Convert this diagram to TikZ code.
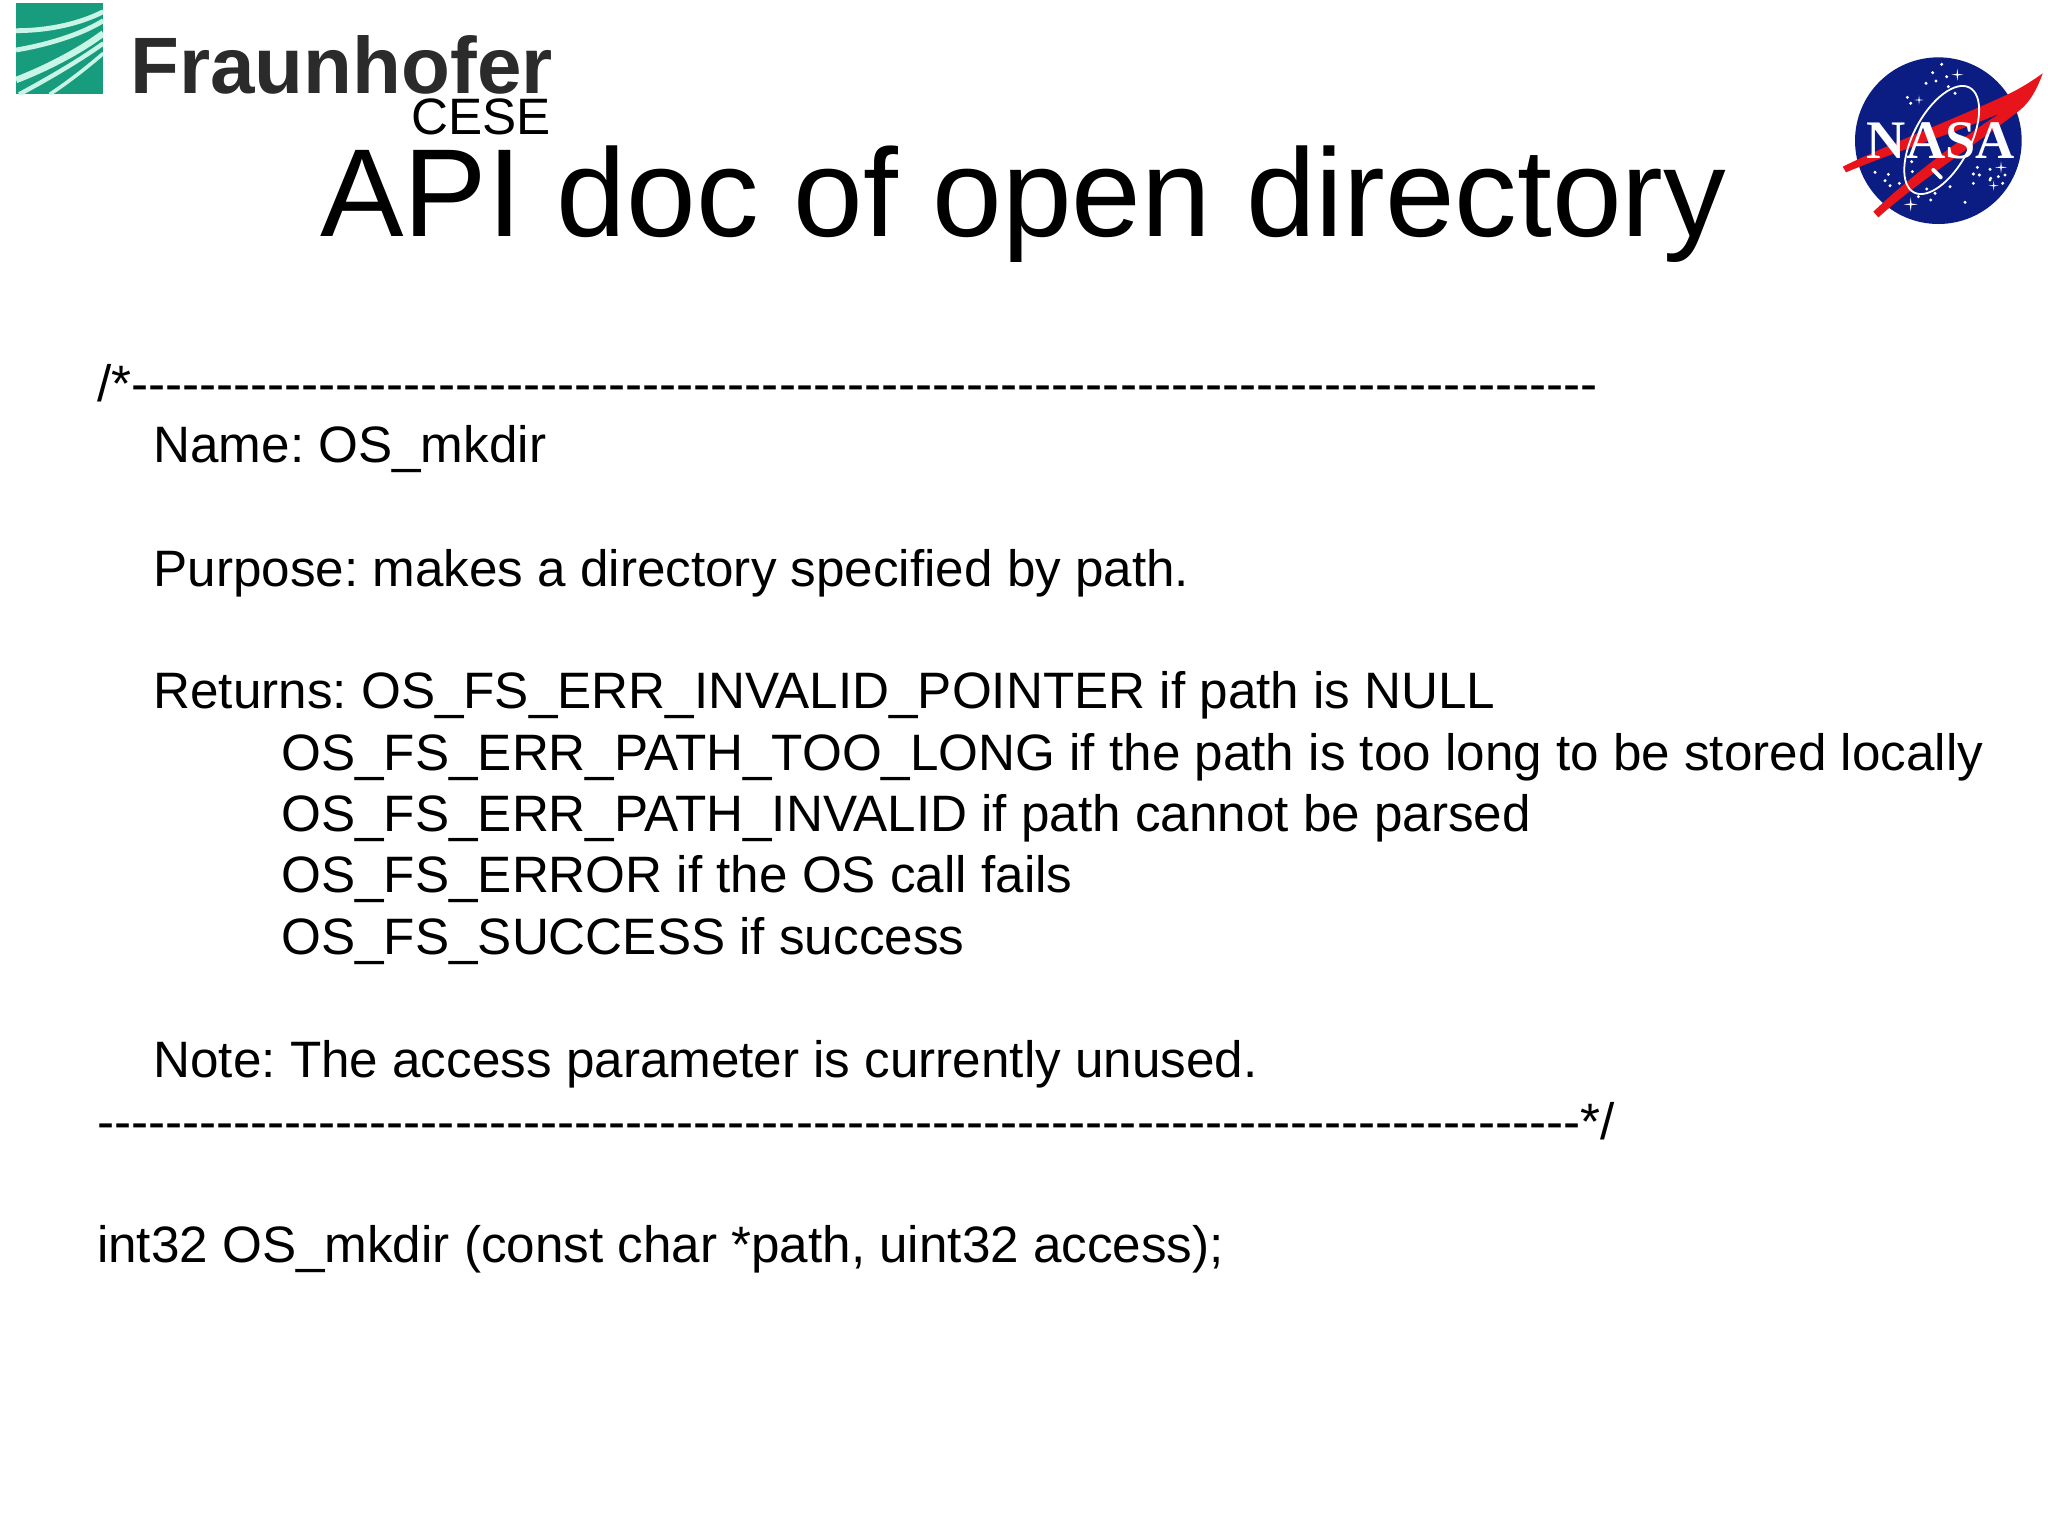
\documentclass[tikz,border=0pt]{standalone}
\usepackage{fontspec}
\setmainfont{Liberation Sans}[Ligatures=TeXOff]
\newfontfamily\nasafont{Liberation Serif}
\definecolor{fgreen}{HTML}{179C7D}
\definecolor{fmint}{HTML}{C8F5E6}
\definecolor{ftext}{HTML}{2B2B2B}
\definecolor{nblue}{HTML}{0B1D82}
\definecolor{nred}{HTML}{E8141C}
\tikzset{
  body/.style={anchor=base west,inner sep=0pt,outer sep=0pt,font=\fontsize{25.6pt}{30pt}\selectfont,text=black},
  streak/.style={draw=fmint,line cap=butt},
  star/.style={fill=white,draw=none},
}
\newcommand{\sparkle}[3]{\fill[star] (#1-#3,#2) -- (#1-0.12*#3,#2-0.12*#3) -- (#1,#2-#3) -- (#1+0.12*#3,#2-0.12*#3) -- (#1+#3,#2) -- (#1+0.12*#3,#2+0.12*#3) -- (#1,#2+#3) -- (#1-0.12*#3,#2+0.12*#3) -- cycle;}
\frenchspacing
\begin{document}
\begin{tikzpicture}[x=0.5pt,y=-0.5pt]
\useasboundingbox (0,0) rectangle (2048,1536);
\fill[white] (0,0) rectangle (2048,1536);
% Fraunhofer logo
\begin{scope}[x=0.19135pt,y=-0.16667pt]
  \fill[fgreen] (42,8) rectangle (270,283);
  \begin{scope}
    \clip (42,8) rectangle (270,283);
    \draw[streak,line width=2.4pt] (42,92) .. controls (130,92) and (210,70) .. (270,35);
    \draw[streak,line width=2.4pt] (42,150) .. controls (120,135) and (210,105) .. (270,62);
    \draw[streak,line width=3.2pt] (42,240) .. controls (110,210) and (200,160) .. (270,100);
    \draw[streak,line width=2.2pt] (50,283) .. controls (120,240) and (210,180) .. (270,130);
    \draw[streak,line width=1.8pt] (130,283) .. controls (180,245) and (230,200) .. (270,160);
  \end{scope}
\end{scope}
\node[anchor=base west,inner sep=0pt,text=ftext,font=\fontsize{40pt}{45pt}\selectfont\bfseries] (fraunhofer) at (130,94) {Fraunhofer};
% NASA logo
\begin{scope}[shift={(1820,30)},x=0.16667pt,y=-0.16667pt]
  \fill[nblue] (355,332) circle (250);
  \fill[nred] (68,410) .. controls (200,345) and (420,260) .. (570,190) .. controls (610,170) and (640,150) .. (668,130)
     .. controls (650,180) and (630,215) .. (600,240) .. controls (500,320) and (300,450) .. (175,562)
     -- (160,545) .. controls (260,450) and (400,340) .. (540,250) .. controls (400,310) and (200,375) .. (78,427) -- cycle;
  \node[inner sep=0pt,text=white,anchor=base] (nasa) at (362,385) {\scalebox{1.18}[1.18]{\nasafont\bfseries\fontsize{23pt}{24pt}\selectfont NASA}};
  \draw[white,line width=0.9pt,rotate around={-28:(365,330)}] (365,330) ellipse (85 and 178);
  \draw[white,line width=2pt,line cap=round] (340,420) -- (362,442);
  \foreach \a/\b in {365/103,338/128,380/140,348/153,318/160,385/170,405/190,262/202,272/220,165/427,205/433,195/452,210/467,238/460,275/395,277/425,320/477,345/490,295/500,332/510,435/517,390/470,472/412,510/418,512/445,555/435,535/440,460/432,478/435,460/460,510/450,548/460}
    \fill[white] (\a,\b) circle (5);
  \sparkle{412}{134}{18}
  \sparkle{297}{210}{14}
  \sparkle{543}{412}{18}
  \sparkle{521}{467}{15}
  \sparkle{272}{523}{21}
\end{scope}
% Titles
\node[anchor=base west,inner sep=0pt,font=\fontsize{25.6pt}{30pt}\selectfont] (cese) at (411,134) {CESE};
\node[anchor=base west,inner sep=0pt,font=\fontsize{62.6pt}{70pt}\selectfont] (title) at (320,236) {API doc of open directory};
% Body
\node[body] (l1) at (97,401) {/*--------------------------------------------------------------------------------------};
\node[body] (l2) at (153.5,462) {Name: OS\_mkdir};
\node[body] (l3) at (153.5,586) {Purpose: makes a directory specified by path.};
\node[body] (l4) at (153.5,708) {Returns: OS\_FS\_ERR\_INVALID\_POINTER if path is NULL};
\node[body] (l5) at (281.5,770) {OS\_FS\_ERR\_PATH\_TOO\_LONG if the path is too long to be stored locally};
\node[body] (l6) at (281.5,831) {OS\_FS\_ERR\_PATH\_INVALID if path cannot be parsed};
\node[body] (l7) at (281.5,892) {OS\_FS\_ERROR if the OS call fails};
\node[body] (l8) at (281.5,954) {OS\_FS\_SUCCESS if success};
\node[body] (l9) at (153.5,1077) {Note: The access parameter is currently unused.};
\node[body] (l10) at (97,1139) {---------------------------------------------------------------------------------------*/};
\node[body] (l11) at (97,1262) {int32 OS\_mkdir (const char *path, uint32 access);};
\end{tikzpicture}
\end{document}
